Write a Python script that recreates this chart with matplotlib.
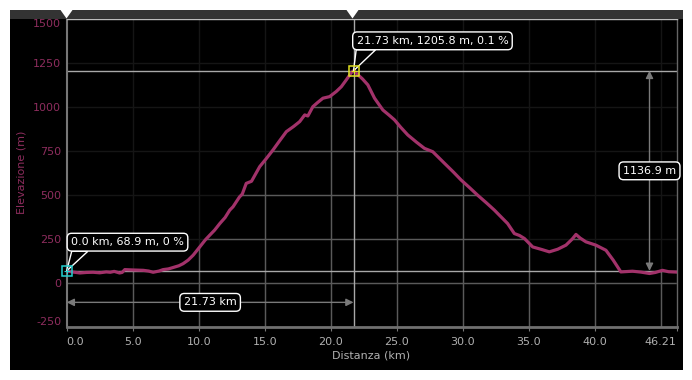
import matplotlib
matplotlib.use("Agg")
import matplotlib.pyplot as plt
from matplotlib.patches import Rectangle, Polygon
import numpy as np

plt.rcParams["axes.unicode_minus"] = False

# ---- data ----
dist_km = [0, 0.5, 1.0, 1.5, 2.0, 2.5, 3.0, 3.3, 3.6, 4.0, 4.2, 4.4, 5.0, 5.8, 6.2,
           6.55, 7.0, 7.3, 7.7, 8.06, 8.5, 8.82, 9.2, 9.58, 10.08, 10.5, 10.84, 11.2,
           11.6, 12.0, 12.35, 12.6, 13.1, 13.3, 13.6, 14.0, 14.62, 15.1, 15.63, 16.1,
           16.64, 17.2, 17.65, 18.03, 18.27, 18.65, 19.0, 19.41, 19.92, 20.42, 20.8,
           21.18, 21.56, 21.73, 22.06, 22.4, 22.81, 23.32, 23.95, 24.4, 24.83, 25.3,
           25.84, 26.5, 27.1, 27.73, 28.62, 29.3, 29.88, 30.5, 31.13, 31.8, 32.4,
           32.78, 33.4, 33.91, 34.3, 34.67, 35.3, 36.0, 36.56, 37.2, 37.82, 38.3,
           38.58, 38.9, 39.33, 40.09, 40.85, 41.4, 41.98, 42.86, 43.5, 44.15, 44.6,
           45.13, 45.6, 46.21]
elev_m = [68.9, 62, 57, 60, 61, 58, 63, 61, 66, 57, 60, 76, 74, 72, 68,
          61, 68, 76, 80, 88, 98, 110, 130, 158, 205, 245, 272, 300,
          338, 372, 414, 433, 490, 505, 566, 578, 661, 705, 756, 805,
          860, 890, 917, 955, 949, 1002, 1025, 1050, 1059, 1088, 1115,
          1154, 1195, 1205.8, 1183, 1160, 1126, 1050, 983, 955, 927, 885,
          841, 800, 765, 746, 680, 630, 585, 543, 499, 455, 414,
          385, 338, 281, 270, 253, 205, 190, 177, 192, 215, 250,
          276, 255, 234, 215, 186, 130, 63, 67, 62, 54, 60,
          72, 64, 62]

x_ticks = [0, 5, 10, 15, 20, 25, 30, 35, 40, 46.21]
x_ticklabels = ["0.0", "5.0", "10.0", "15.0", "20.0", "25.0", "30.0", "35.0", "40.0", "46.21"]
x_grid = [5, 10, 15, 20, 25, 30, 35, 40, 45]
y_ticks = [-250, 0, 250, 500, 750, 1000, 1250, 1500]
y_grid = [0, 250, 500, 750, 1000, 1250]

start_pt = (0.0, 68.9)
peak_pt = (21.73, 1205.8)
start_label = "0.0 km, 68.9 m, 0 %"
peak_label = "21.73 km, 1205.8 m, 0.1 %"
dist_label = "21.73 km"
gain_label = "1136.9 m"
dist_arrow_y = -110
gain_arrow_x = 44.15

W, H = 692, 380
LINE_C = "#a2326a"
YLAB_C = "#8e2d5e"

fig = plt.figure(figsize=(W / 100, H / 100), dpi=100, facecolor="white")

def fx(px):
    return px / W

def fy(py):
    return (H - py) / H

# black panel and top bar
fig.add_artist(Rectangle((fx(10), fy(370)), fx(683) - fx(10), fy(10) - fy(370),
                         transform=fig.transFigure, facecolor="black", edgecolor="none", zorder=0))
fig.add_artist(Rectangle((fx(10), fy(19)), fx(683) - fx(10), fy(10) - fy(19),
                         transform=fig.transFigure, facecolor="#333333", edgecolor="none", zorder=1))
for cx in (66.5, 352.5):
    fig.add_artist(Polygon([(fx(cx - 6), fy(10)), (fx(cx + 6), fy(10)), (fx(cx), fy(18.5))],
                           closed=True, transform=fig.transFigure, facecolor="white",
                           edgecolor="none", zorder=2))

ax = fig.add_axes([fx(66.7), fy(327), fx(676.7) - fx(66.7), fy(19) - fy(327)])
ax.set_facecolor("black")
ax.set_xlim(0, 46.21)
ax.set_ylim(-250, 1500)

# faint grid everywhere
for v in x_grid:
    ax.axvline(v, color="#151515", lw=1, zorder=0.5)
for v in y_grid:
    ax.axhline(v, color="#151515", lw=1, zorder=0.5)

# brighter grid clipped to the area under the profile
fill = ax.fill_between(dist_km, elev_m, -250, facecolor="none", edgecolor="none")
clip_path = fill.get_paths()[0]
for v in x_grid:
    l = ax.axvline(v, color="#5a5a5a", lw=1, zorder=1)
    l.set_clip_path(clip_path, ax.transData)
for v in y_grid:
    l = ax.axhline(v, color="#5a5a5a", lw=1, zorder=1)
    l.set_clip_path(clip_path, ax.transData)

# crosshair lines
ax.axhline(peak_pt[1], color="#a8a8a8", lw=1, zorder=2)
ax.axhline(start_pt[1], color="#a8a8a8", lw=1, zorder=2)
ax.axvline(peak_pt[0], color="#a8a8a8", lw=1, zorder=2)

# profile line
ax.plot(dist_km, elev_m, color=LINE_C, lw=2.3, zorder=3, solid_joinstyle="round")

# markers
for (px_, py_), c in ((start_pt, "#22d0d0"), (peak_pt, "#e0e020")):
    ax.plot([px_], [py_], marker="s", ms=7.5, mfc="none", mec=c, mew=1.1, zorder=8, clip_on=False)
    ax.plot([px_], [py_], marker="+", ms=5, color=c, mew=0.8, zorder=8, clip_on=False)

# dimension arrows
arrow_kw = dict(arrowstyle="<|-|>", color="#7a7a7a", lw=1, mutation_scale=11,
                shrinkA=0, shrinkB=0)
ax.annotate("", xy=(0, dist_arrow_y), xytext=(peak_pt[0], dist_arrow_y),
            arrowprops=arrow_kw, zorder=4, annotation_clip=False)
ax.annotate("", xy=(gain_arrow_x, start_pt[1]), xytext=(gain_arrow_x, peak_pt[1]),
            arrowprops=arrow_kw, zorder=4, annotation_clip=False)

box_kw = dict(boxstyle="round,pad=0.35,rounding_size=0.4", fc="black", ec="white", lw=1)
ax.text(peak_pt[0] / 2, dist_arrow_y, dist_label, ha="center", va="center", color="white",
        fontsize=8, bbox=box_kw, zorder=5)
ax.text(gain_arrow_x, (start_pt[1] + peak_pt[1]) / 2, gain_label, ha="center", va="center",
        color="white", fontsize=8, bbox=box_kw, zorder=5)

# callouts: speech-bubble tail + rounded box
tails = [
    [start_pt, (0.38, 180), (1.6, 180)],
    [peak_pt, (21.93, 1325), (23.4, 1325)],
]
for verts in tails:
    ax.add_patch(Polygon(verts, closed=True, facecolor="black", edgecolor="white", lw=1,
                         zorder=6, clip_on=False, joinstyle="miter"))
ax.text(0.33, 232, start_label, ha="left", va="center", color="white", fontsize=8,
        bbox=box_kw, zorder=7, clip_on=False)
ax.text(21.96, 1376, peak_label, ha="left", va="center", color="white", fontsize=8,
        bbox=box_kw, zorder=7, clip_on=False)

# axes styling
ax.set_xticks(x_ticks)
ax.set_xticklabels(x_ticklabels)
ax.set_yticks(y_ticks)
ax.set_yticklabels([str(v) for v in y_ticks])
xl = ax.get_xticklabels()
xl[0].set_ha("left")
xl[-1].set_ha("right")
yl = ax.get_yticklabels()
yl[0].set_va("bottom")
yl[-1].set_va("top")
ax.tick_params(axis="x", colors="#777777", labelcolor="#b0b0b0", labelsize=8, length=3, pad=4)
ax.tick_params(axis="y", length=0, labelcolor=YLAB_C, labelsize=8, pad=4)
ax.spines["left"].set_color("#777777")
ax.spines["left"].set_linewidth(1.5)
ax.spines["bottom"].set_color("#707070")
ax.spines["bottom"].set_linewidth(2)
ax.spines["top"].set_color("#bbbbbb")
ax.spines["top"].set_linewidth(1)
ax.spines["right"].set_color("#666666")
ax.spines["right"].set_linewidth(1)

fig.text(fx(22), fy(172), "Elevazione (m)", rotation=90, ha="center", va="center",
         color=YLAB_C, fontsize=8)
fig.text(fx(371), fy(356), "Distanza (km)", ha="center", va="center",
         color="#b0b0b0", fontsize=8)

fig.savefig("out.png", dpi=100, facecolor="white")
